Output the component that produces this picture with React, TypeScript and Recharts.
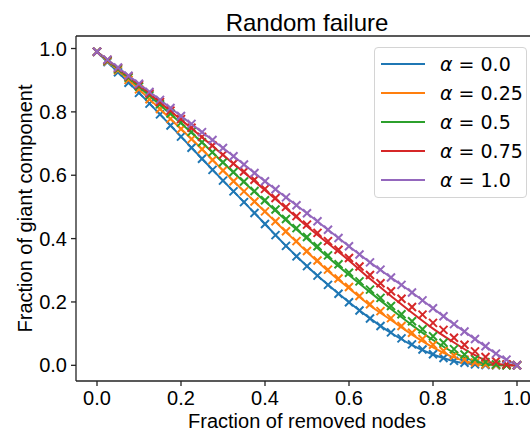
import { LineChart, Line, XAxis, YAxis, Legend, ReferenceLine } from 'recharts'

// series labels / colours
const alphaLabels = ['0.0', '0.25', '0.5', '0.75', '1.0']
const colors = ['#1f77b4', '#ff7f0e', '#2ca02c', '#d62728', '#9467bd']
const xTicks = [0, 0.2, 0.4, 0.6, 0.8, 1.0]
const yTicks = [0, 0.2, 0.4, 0.6, 0.8, 1.0]

// simulation points (x markers)
const simX = [0, 0.025, 0.05, 0.075, 0.1, 0.125, 0.15, 0.175, 0.2, 0.225, 0.25, 0.275, 0.3, 0.325, 0.35, 0.375, 0.4, 0.425, 0.45, 0.475, 0.5, 0.525, 0.55, 0.575, 0.6, 0.625, 0.65, 0.675, 0.7, 0.725, 0.75, 0.775, 0.8, 0.825, 0.85, 0.875, 0.9, 0.925, 0.95, 0.975, 1.0]
const simA00 = [0.99, 0.957, 0.925, 0.892, 0.86, 0.826, 0.792, 0.757, 0.722, 0.687, 0.652, 0.617, 0.583, 0.549, 0.515, 0.481, 0.446, 0.411, 0.377, 0.344, 0.313, 0.283, 0.254, 0.226, 0.199, 0.173, 0.148, 0.124, 0.104, 0.085, 0.066, 0.05, 0.035, 0.023, 0.014, 0.008, 0.003, 0.001, 0, 0, 0]
const simA025 = [0.99, 0.96, 0.931, 0.901, 0.871, 0.84, 0.809, 0.778, 0.746, 0.714, 0.682, 0.648, 0.615, 0.581, 0.549, 0.517, 0.486, 0.455, 0.423, 0.392, 0.361, 0.331, 0.302, 0.274, 0.247, 0.219, 0.193, 0.171, 0.149, 0.124, 0.103, 0.083, 0.065, 0.046, 0.031, 0.018, 0.009, 0.003, 0.001, 0, 0]
const simA05 = [0.99, 0.962, 0.935, 0.908, 0.88, 0.852, 0.824, 0.795, 0.766, 0.737, 0.704, 0.673, 0.641, 0.61, 0.58, 0.55, 0.521, 0.492, 0.462, 0.433, 0.405, 0.376, 0.347, 0.319, 0.292, 0.265, 0.239, 0.213, 0.187, 0.161, 0.139, 0.114, 0.092, 0.071, 0.051, 0.034, 0.02, 0.01, 0.003, 0, 0]
const simA075 = [0.99, 0.964, 0.938, 0.912, 0.885, 0.858, 0.831, 0.804, 0.777, 0.75, 0.721, 0.694, 0.665, 0.637, 0.612, 0.586, 0.557, 0.528, 0.5, 0.471, 0.444, 0.418, 0.392, 0.365, 0.339, 0.312, 0.285, 0.259, 0.234, 0.21, 0.184, 0.16, 0.134, 0.112, 0.087, 0.065, 0.044, 0.026, 0.013, 0.003, 0]
const simA10 = [0.99, 0.965, 0.94, 0.914, 0.889, 0.863, 0.838, 0.812, 0.787, 0.762, 0.736, 0.711, 0.686, 0.66, 0.634, 0.607, 0.581, 0.556, 0.53, 0.505, 0.48, 0.455, 0.428, 0.402, 0.376, 0.35, 0.325, 0.302, 0.277, 0.254, 0.23, 0.205, 0.18, 0.155, 0.13, 0.107, 0.083, 0.06, 0.037, 0.018, 0]

// theory curves (solid lines)
const theoryX = [0, 0.05, 0.1, 0.15, 0.2, 0.25, 0.3, 0.35, 0.4, 0.45, 0.5, 0.55, 0.6, 0.65, 0.7, 0.75, 0.8, 0.85, 0.9, 0.95, 1.0]
const theoryA00 = [0.99, 0.925, 0.86, 0.792, 0.722, 0.652, 0.583, 0.515, 0.446, 0.377, 0.313, 0.254, 0.199, 0.148, 0.102, 0.064, 0.034, 0.013, 0.003, 0, 0]
const theoryA025 = [0.99, 0.931, 0.871, 0.809, 0.746, 0.682, 0.615, 0.549, 0.485, 0.421, 0.358, 0.298, 0.243, 0.189, 0.143, 0.097, 0.057, 0.025, 0.006, 0.001, 0]
const theoryA05 = [0.99, 0.935, 0.879, 0.822, 0.764, 0.703, 0.64, 0.578, 0.518, 0.458, 0.4, 0.341, 0.285, 0.231, 0.178, 0.127, 0.08, 0.04, 0.013, 0.002, 0]
const theoryA075 = [0.99, 0.938, 0.884, 0.83, 0.775, 0.72, 0.664, 0.609, 0.553, 0.496, 0.439, 0.385, 0.331, 0.273, 0.219, 0.166, 0.116, 0.072, 0.032, 0.005, 0]
const theoryA10 = [0.99, 0.94, 0.889, 0.838, 0.787, 0.736, 0.686, 0.634, 0.581, 0.53, 0.48, 0.428, 0.376, 0.325, 0.277, 0.23, 0.18, 0.13, 0.083, 0.037, 0]

const simSeries = [simA00, simA025, simA05, simA075, simA10]
const theorySeries = [theoryA00, theoryA025, theoryA05, theoryA075, theoryA10]

const data = simX.map((x, i) => {
  const row: Record<string, number | undefined> = { x }
  const j = theoryX.indexOf(x)
  simSeries.forEach((s, k) => { row['s' + k] = s[i] })
  theorySeries.forEach((t, k) => { row['t' + k] = j >= 0 ? t[j] : undefined })
  return row
})

const Y_DOMAIN: [number, number] = [-0.0495, 1.0395]
const FONT = '"Liberation Sans", Arial, sans-serif'
const tickStyle = { fill: '#000', fontSize: 20, fontFamily: FONT }
const fmt = (v: number) => v.toFixed(1)

const crossDot = (color: string) => (props: any) => {
  const { cx, cy, index } = props
  if (cx == null || cy == null) return <g key={`e-${color}-${index}`} />
  const s = 4
  return (
    <path
      key={`${color}-${index}`}
      d={`M${cx - s},${cy - s}L${cx + s},${cy + s}M${cx - s},${cy + s}L${cx + s},${cy - s}`}
      stroke={color}
      strokeWidth={2}
      fill="none"
    />
  )
}

const renderLegend = (props: any) => {
  const items = (props.payload || []).filter((p: any) => p.type !== 'none')
  return (
    <div style={{
      width: 153, height: 151, boxSizing: 'border-box', border: '1px solid #d4d4d4', borderRadius: 4,
      background: 'rgba(255,255,255,0.85)', paddingTop: 1, paddingLeft: 6,
      fontFamily: '"DejaVu Sans", sans-serif', fontSize: 19, color: '#000',
    }}>
      {items.map((it: any) => (
        <div key={it.value} style={{ display: 'flex', alignItems: 'center', height: 29 }}>
          <svg width={44} height={4} style={{ marginRight: 15 }}>
            <line x1={0} y1={2} x2={44} y2={2} stroke={it.color} strokeWidth={2} />
          </svg>
          <span style={{ whiteSpace: 'nowrap' }}><i>α</i> = {it.value}</span>
        </div>
      ))}
    </div>
  )
}

export default function App() {
  const series = colors.flatMap((c, k) => [
    <Line
      key={'t' + k}
      dataKey={'t' + k}
      name={alphaLabels[k]}
      type="monotone"
      stroke={c}
      strokeWidth={2}
      dot={false}
      activeDot={false}
      connectNulls
      isAnimationActive={false}
    />,
    <Line
      key={'s' + k}
      dataKey={'s' + k}
      legendType="none"
      stroke="none"
      dot={crossDot(c)}
      activeDot={false}
      isAnimationActive={false}
    />,
  ])

  return (
    <div style={{ position: 'fixed', left: 0, top: 0, width: 530, height: 434, overflow: 'hidden', background: '#fff' }}>
      <LineChart width={560} height={434} data={data} margin={{ top: 36, right: 22, bottom: 0, left: 0 }}>
        <XAxis
          dataKey="x"
          type="number"
          domain={[-0.05, 1.05]}
          allowDataOverflow
          ticks={xTicks}
          tickFormatter={fmt}
          tick={tickStyle}
          tickSize={5}
          tickMargin={5}
          height={53}
          stroke="#222"
          strokeWidth={1.3}
          label={{
            content: (p: any) => {
              const cx = p.viewBox.x + p.viewBox.width / 2
              return (
                <g>
                  <text x={cx} y={427.5} textAnchor="middle" fontSize={20} fontFamily={FONT} fill="#000">
                    Fraction of removed nodes
                  </text>
                  <text x={cx} y={30.5} textAnchor="middle" fontSize={24} fontFamily={FONT} fill="#000">
                    Random failure
                  </text>
                </g>
              )
            },
          }}
        />
        <YAxis
          type="number"
          domain={Y_DOMAIN}
          allowDataOverflow
          ticks={yTicks}
          tickFormatter={fmt}
          tick={tickStyle}
          tickSize={5}
          tickMargin={4}
          width={76}
          stroke="#222"
          strokeWidth={1.3}
          label={{
            content: (p: any) => {
              const cy = p.viewBox.y + p.viewBox.height / 2
              return (
                <text x={32} y={cy} transform={`rotate(-90, 32, ${cy})`} textAnchor="middle" fontSize={20} fontFamily={FONT} fill="#000">
                  Fraction of giant component
                </text>
              )
            },
          }}
        />
        <ReferenceLine y={Y_DOMAIN[1]} stroke="#222" strokeWidth={1.3} ifOverflow="visible" />
        <Legend
          layout="vertical"
          align="center"
          verticalAlign="middle"
          content={renderLegend}
          wrapperStyle={{ position: 'absolute', left: 374, top: 47, width: 153, height: 151 }}
        />
        {series}
      </LineChart>
    </div>
  )
}
